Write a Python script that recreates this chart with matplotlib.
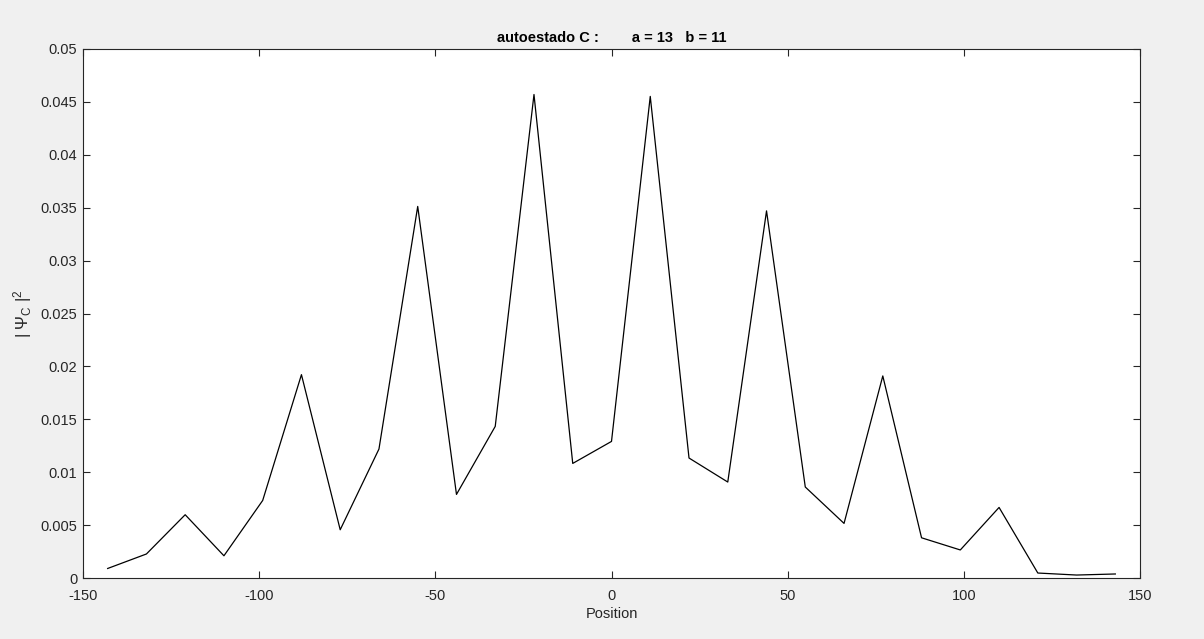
import numpy as np
import matplotlib
matplotlib.use('Agg')
import matplotlib.pyplot as plt

position = [-143, -132, -121, -110, -99, -88, -77, -66, -55, -44, -33, -22, -11,
            0, 11, 22, 33, 44, 55, 66, 77, 88, 99, 110, 121, 132, 143]
psi2 = [0.0009, 0.00227, 0.00598, 0.0021, 0.00733, 0.01922, 0.00456, 0.01219,
        0.03512, 0.0079, 0.01433, 0.0457, 0.01083, 0.01291, 0.04552, 0.01134,
        0.00907, 0.0347, 0.0086, 0.00516, 0.0191, 0.0038, 0.00265, 0.00667,
        0.00047, 0.00028, 0.00038]

xticks = [-150, -100, -50, 0, 50, 100, 150]
yticks = [0, 0.005, 0.01, 0.015, 0.02, 0.025, 0.03, 0.035, 0.04, 0.045, 0.05]
ytick_labels = ['0', '0.005', '0.01', '0.015', '0.02', '0.025', '0.03',
                '0.035', '0.04', '0.045', '0.05']

custom_style = {
    'font.family': 'Liberation Sans',
    'font.size': 10.5,
    'axes.unicode_minus': False,
    'mathtext.fontset': 'custom',
    'mathtext.rm': 'Liberation Sans',
    'mathtext.it': 'Liberation Sans',
    'axes.linewidth': 0.8,
    'axes.edgecolor': '#262626',
    'xtick.direction': 'in',
    'ytick.direction': 'in',
    'xtick.top': True,
    'ytick.right': True,
    'xtick.color': '#262626',
    'ytick.color': '#262626',
    'xtick.major.size': 5,
    'ytick.major.size': 5,
    'xtick.major.width': 0.8,
    'ytick.major.width': 0.8,
}
plt.style.use(custom_style)

fig = plt.figure(figsize=(12.04, 6.39), dpi=100, facecolor='#f0f0f0')
ax = fig.add_axes([83 / 1204, 61 / 639, 1057 / 1204, 529 / 639])
ax.set_facecolor('white')

ax.plot(position, psi2, color='k', linewidth=0.9)

ax.set_xlim(-150, 150)
ax.set_ylim(0, 0.05)
ax.set_xticks(xticks)
ax.set_yticks(yticks)
ax.set_yticklabels(ytick_labels)
ax.tick_params(labelcolor='#262626')
ax.tick_params(axis='x', pad=8)
ax.tick_params(axis='y', pad=4)

ax.set_title('autoestado C :        a = 13   b = 11', fontweight='bold',
             fontsize=10.5, color='k', pad=5)
ax.set_xlabel('Position', color='#262626', labelpad=3)
ax.set_ylabel(r'| $\Psi_{\mathrm{C}}$ |$^{2}$', color='#262626', labelpad=5,
              fontsize=12)

fig.savefig('out.png', dpi=100, facecolor=fig.get_facecolor())
